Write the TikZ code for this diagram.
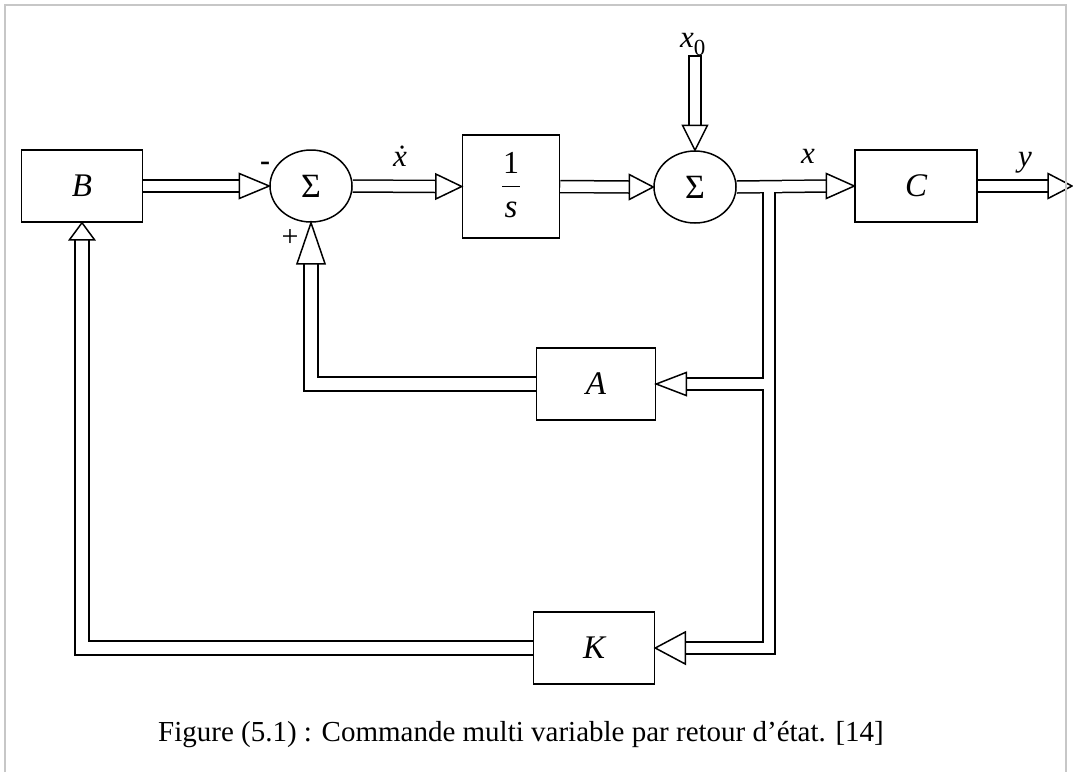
\documentclass[tikz,border=0pt]{standalone}
\usepackage{fontspec}
\setmainfont{Liberation Serif}
\usetikzlibrary{calc,shapes.geometric}
\pgfdeclarelayer{bg}
\pgfsetlayers{bg,main}
\newcommand\drawshafts[4]{%
  \draw[#3, line width=#1] (B.east) -- ($(S1.west)+(-30,0)$);
  \draw[#3, line width=#1] (S1.east) -- ($(I.west)+(-26,0)$);
  \draw[#3, line width=#1] (I.east) -- ($(S2.west)+(-24,0)$);
  \draw[#3, line width=#1] ($(x0)+(0,#4)$) -- ($(S2.north)+(0,-25)$);
  \draw[#3, line width=#1] (S2.east) -- ($(C.west)+(-28,0)$);
  \draw[#3, line width=#1] (C.east) -- ($(yout)+(-24,0)$);
  \draw[#3, line width=#1] (tee) -- (tee |- K.east) -- ($(K.east)+(30,0)$);
  \draw[#3, line width=#1] (tee |- A.east) -- ($(A.east)+(30,0)$);
  \draw[#3, line width=#2] (A.west) -| ($(S1.south)+(0,41)$);
  \draw[#3, line width=#2] (K.west) -| ($(B.south)+(0,17)$);
}
\begin{document}
\begin{tikzpicture}[x=1pt,y=-1pt,
  line join=miter,
  box/.style={draw, line width=1.5pt, inner sep=0pt, font=\fontsize{33}{35}\selectfont\itshape},
  sumnode/.style={draw, ellipse, line width=1.5pt, inner sep=0pt, minimum width=82pt, minimum height=72pt, font=\fontsize{34}{36}\selectfont},
  hd/.style={draw, fill=white, line width=1.5pt, line join=miter},
  lbl/.style={inner sep=0pt, font=\fontsize{31}{33}\selectfont\itshape},
  sign/.style={inner sep=0pt, font=\fontsize{30}{32}\selectfont}]
\useasboundingbox (0,0) rectangle (1073,772);
\draw[black!22, line width=2.5pt] (5,772) -- (5,5) -- (1066,5) -- (1066,772);
% blocks
\node[box, minimum width=121pt, minimum height=72pt] (B) at (82,186) {B};
\node[sumnode] (S1) at (311,186) {Σ};
\node[box, minimum width=97pt, minimum height=103pt] (I) at (511,186.5) {};
\node[sumnode] (S2) at (695,187) {Σ};
\node[box, minimum width=122pt, minimum height=72pt] (C) at (916,186) {C};
\node[box, minimum width=119pt, minimum height=72pt] (A) at (596,384) {A};
\node[box, minimum width=121pt, minimum height=72pt] (K) at (594,648) {K};
\node[inner sep=0pt, font=\fontsize{32}{34}\selectfont] (one) at (511,163) {1};
\node[inner sep=0pt, font=\fontsize{33}{35}\selectfont\itshape] (s) at (511,210) {s};
\draw[line width=1.5pt] ($(I.center)+(-9,0)$) -- ($(I.center)+(9,0)$);
\coordinate (x0) at (695,55);
\coordinate (yout) at (1072,186);
\coordinate (tee) at (769,186);
% connectors
\begin{pgfonlayer}{bg}
\drawshafts{13.5pt}{15.5pt}{black}{0}
\drawshafts{10.5pt}{12.5pt}{white}{1.5}
\draw[hd] (S1.west) -- ++(-30,-12.5) -- ++(0,25) -- cycle;
\draw[hd] (I.west) -- ++(-26,-12.5) -- ++(0,25) -- cycle;
\draw[hd] (S2.west) -- ++(-24,-12.5) -- ++(0,25) -- cycle;
\draw[hd] (S2.north) -- ++(-12.5,-25) -- ++(25,0) -- cycle;
\draw[hd] (C.west) -- ++(-28,-12.5) -- ++(0,25) -- cycle;
\draw[hd] (yout) -- ++(-24,-12.5) -- ++(0,25) -- cycle;
\draw[hd] (A.east) -- ++(30,-11.5) -- ++(0,23) -- cycle;
\draw[hd] (K.east) -- ++(30,-16) -- ++(0,32) -- cycle;
\draw[hd] (S1.south) -- ++(-14,41) -- ++(28,0) -- cycle;
\draw[hd] (B.south) -- ++(-12.5,17) -- ++(25,0) -- cycle;
\end{pgfonlayer}
% labels
\node[sign] (minus) at (265,166) {\textbf{-}};
\node[sign] (plus) at (290,238) {+};
\node[lbl] (xdot) at (400,156) {\.x};
\node[lbl, anchor=base west] (x0l) at (680,47) {x\raisebox{-8pt}{\upshape\fontsize{23}{23}\selectfont 0}};
\node[lbl] (xl) at (808,156) {x};
\node[lbl] (yl) at (1025,163) {y};
\node[inner sep=0pt, font=\fontsize{29}{32}\selectfont] (cap) at (521,735) {Figure (5.1) : Commande multi variable par retour d’état. [14]};
\end{tikzpicture}
\end{document}
